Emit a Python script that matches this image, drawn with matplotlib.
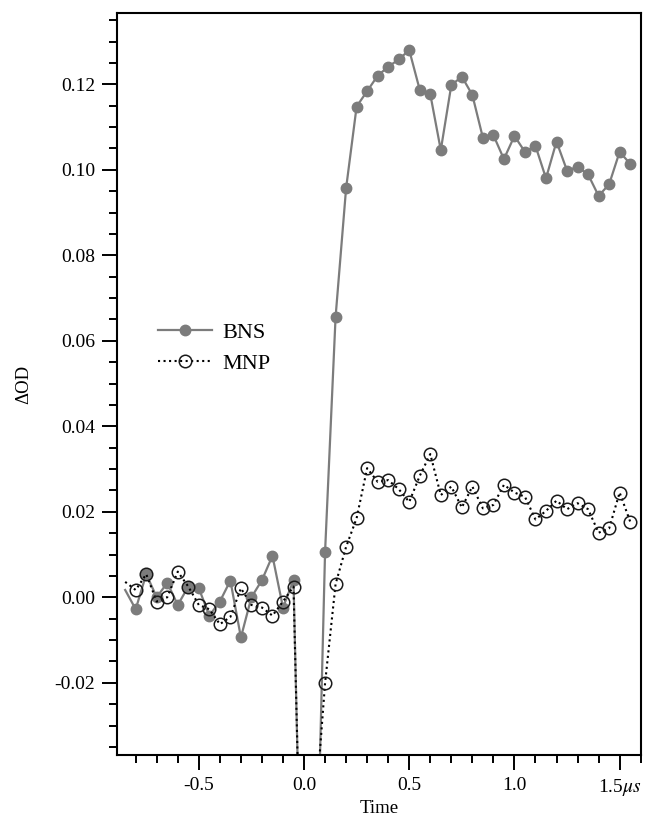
import matplotlib
matplotlib.use("Agg")
import matplotlib.pyplot as plt
import numpy as np

plt.rcParams['font.family'] = ['Liberation Serif', 'DejaVu Serif']
plt.rcParams['mathtext.fontset'] = 'stix'

# time axis (us), step 0.05
time = [-0.85, -0.80, -0.75, -0.70, -0.65, -0.60, -0.55, -0.50, -0.45, -0.40,
        -0.35, -0.30, -0.25, -0.20, -0.15, -0.10, -0.05, 0.00, 0.05, 0.10,
        0.15, 0.20, 0.25, 0.30, 0.35, 0.40, 0.45, 0.50, 0.55, 0.60,
        0.65, 0.70, 0.75, 0.80, 0.85, 0.90, 0.95, 1.00, 1.05, 1.10,
        1.15, 1.20, 1.25, 1.30, 1.35, 1.40, 1.45, 1.50, 1.55]

bns = [0.0017, -0.0028, 0.0054, 0.0000, 0.0034, -0.0018, 0.0025, 0.0021, -0.0043, -0.0010,
       0.0039, -0.0094, 0.0000, 0.0040, 0.0097, -0.0024, 0.0040, -0.104, -0.0886, 0.0106,
       0.0656, 0.0957, 0.1148, 0.1184, 0.1220, 0.1241, 0.1258, 0.1280, 0.1187, 0.1177,
       0.1046, 0.1198, 0.1218, 0.1175, 0.1075, 0.1081, 0.1025, 0.1079, 0.1042, 0.1056,
       0.0980, 0.1066, 0.0998, 0.1007, 0.0989, 0.0939, 0.0966, 0.1042, 0.1014]

mnp = [0.0036, 0.0017, 0.0054, -0.0010, 0.0000, 0.0060, 0.0025, -0.0018, -0.0028, -0.0063,
       -0.0046, 0.0021, -0.0018, -0.0024, -0.0043, -0.0010, 0.0025, -0.100, -0.0526, -0.0201,
       0.0031, 0.0118, 0.0185, 0.0302, 0.0270, 0.0274, 0.0253, 0.0223, 0.0284, 0.0335,
       0.0239, 0.0259, 0.0210, 0.0259, 0.0208, 0.0216, 0.0263, 0.0245, 0.0235, 0.0182,
       0.0202, 0.0226, 0.0206, 0.0220, 0.0206, 0.0151, 0.0161, 0.0245, 0.0177]

xticks = [-0.5, 0.0, 0.5, 1.0, 1.5]
xticklabels = ['-0.5', '0.0', '0.5', '1.0', r'1.5$\mu s$']
yticks = [-0.02, 0.00, 0.02, 0.04, 0.06, 0.08, 0.10, 0.12]

# off-scale points at t=0.00 and 0.05 carry no marker
marks = [i for i, v in enumerate(time) if i > 0 and v not in (0.0, 0.05)]

fig = plt.figure(figsize=(6.45, 8.22), dpi=100)
ax = fig.add_axes([0.182, 0.0815, 0.8113, 0.9023])

ax.plot(time, bns, color='#7c7c7c', lw=1.6, marker='o', ms=7.5,
        mfc='#7c7c7c', mec='#7c7c7c', markevery=marks, label='BNS')
ax.plot(time, mnp, color='black', lw=1.5, ls=':', marker='o', ms=9,
        mfc='none', mec='#1a1a1a', mew=1.1, markevery=marks, label='MNP')

ax.set_xlim(-0.887, 1.586)
ax.set_ylim(-0.0369, 0.1366)

ax.set_xticks(xticks)
ax.set_xticklabels(xticklabels)
ax.set_xticks(np.arange(-0.8, 1.6, 0.1), minor=True)
ax.set_yticks(yticks)
ax.set_yticklabels(['%.2f' % v for v in yticks])
ax.set_yticks(np.arange(-0.035, 0.136, 0.005), minor=True)

ax.tick_params(axis='both', which='major', direction='out', length=11, width=1.4,
               labelsize=14, pad=5)
ax.tick_params(axis='both', which='minor', direction='out', length=6, width=1.4)
ax.tick_params(top=False, right=False, which='both')
for s in ax.spines.values():
    s.set_linewidth(1.5)

ax.set_xlabel('Time', fontsize=13.5, labelpad=1)
ax.set_ylabel('ΔOD', fontsize=13.5, labelpad=16)

ax.legend(loc='upper left', bbox_to_anchor=(0.04, 0.61), frameon=False,
          fontsize=16, handlelength=2.4, handletextpad=0.5, labelspacing=0.45,
          numpoints=1)

fig.savefig('out.png', dpi=100)
